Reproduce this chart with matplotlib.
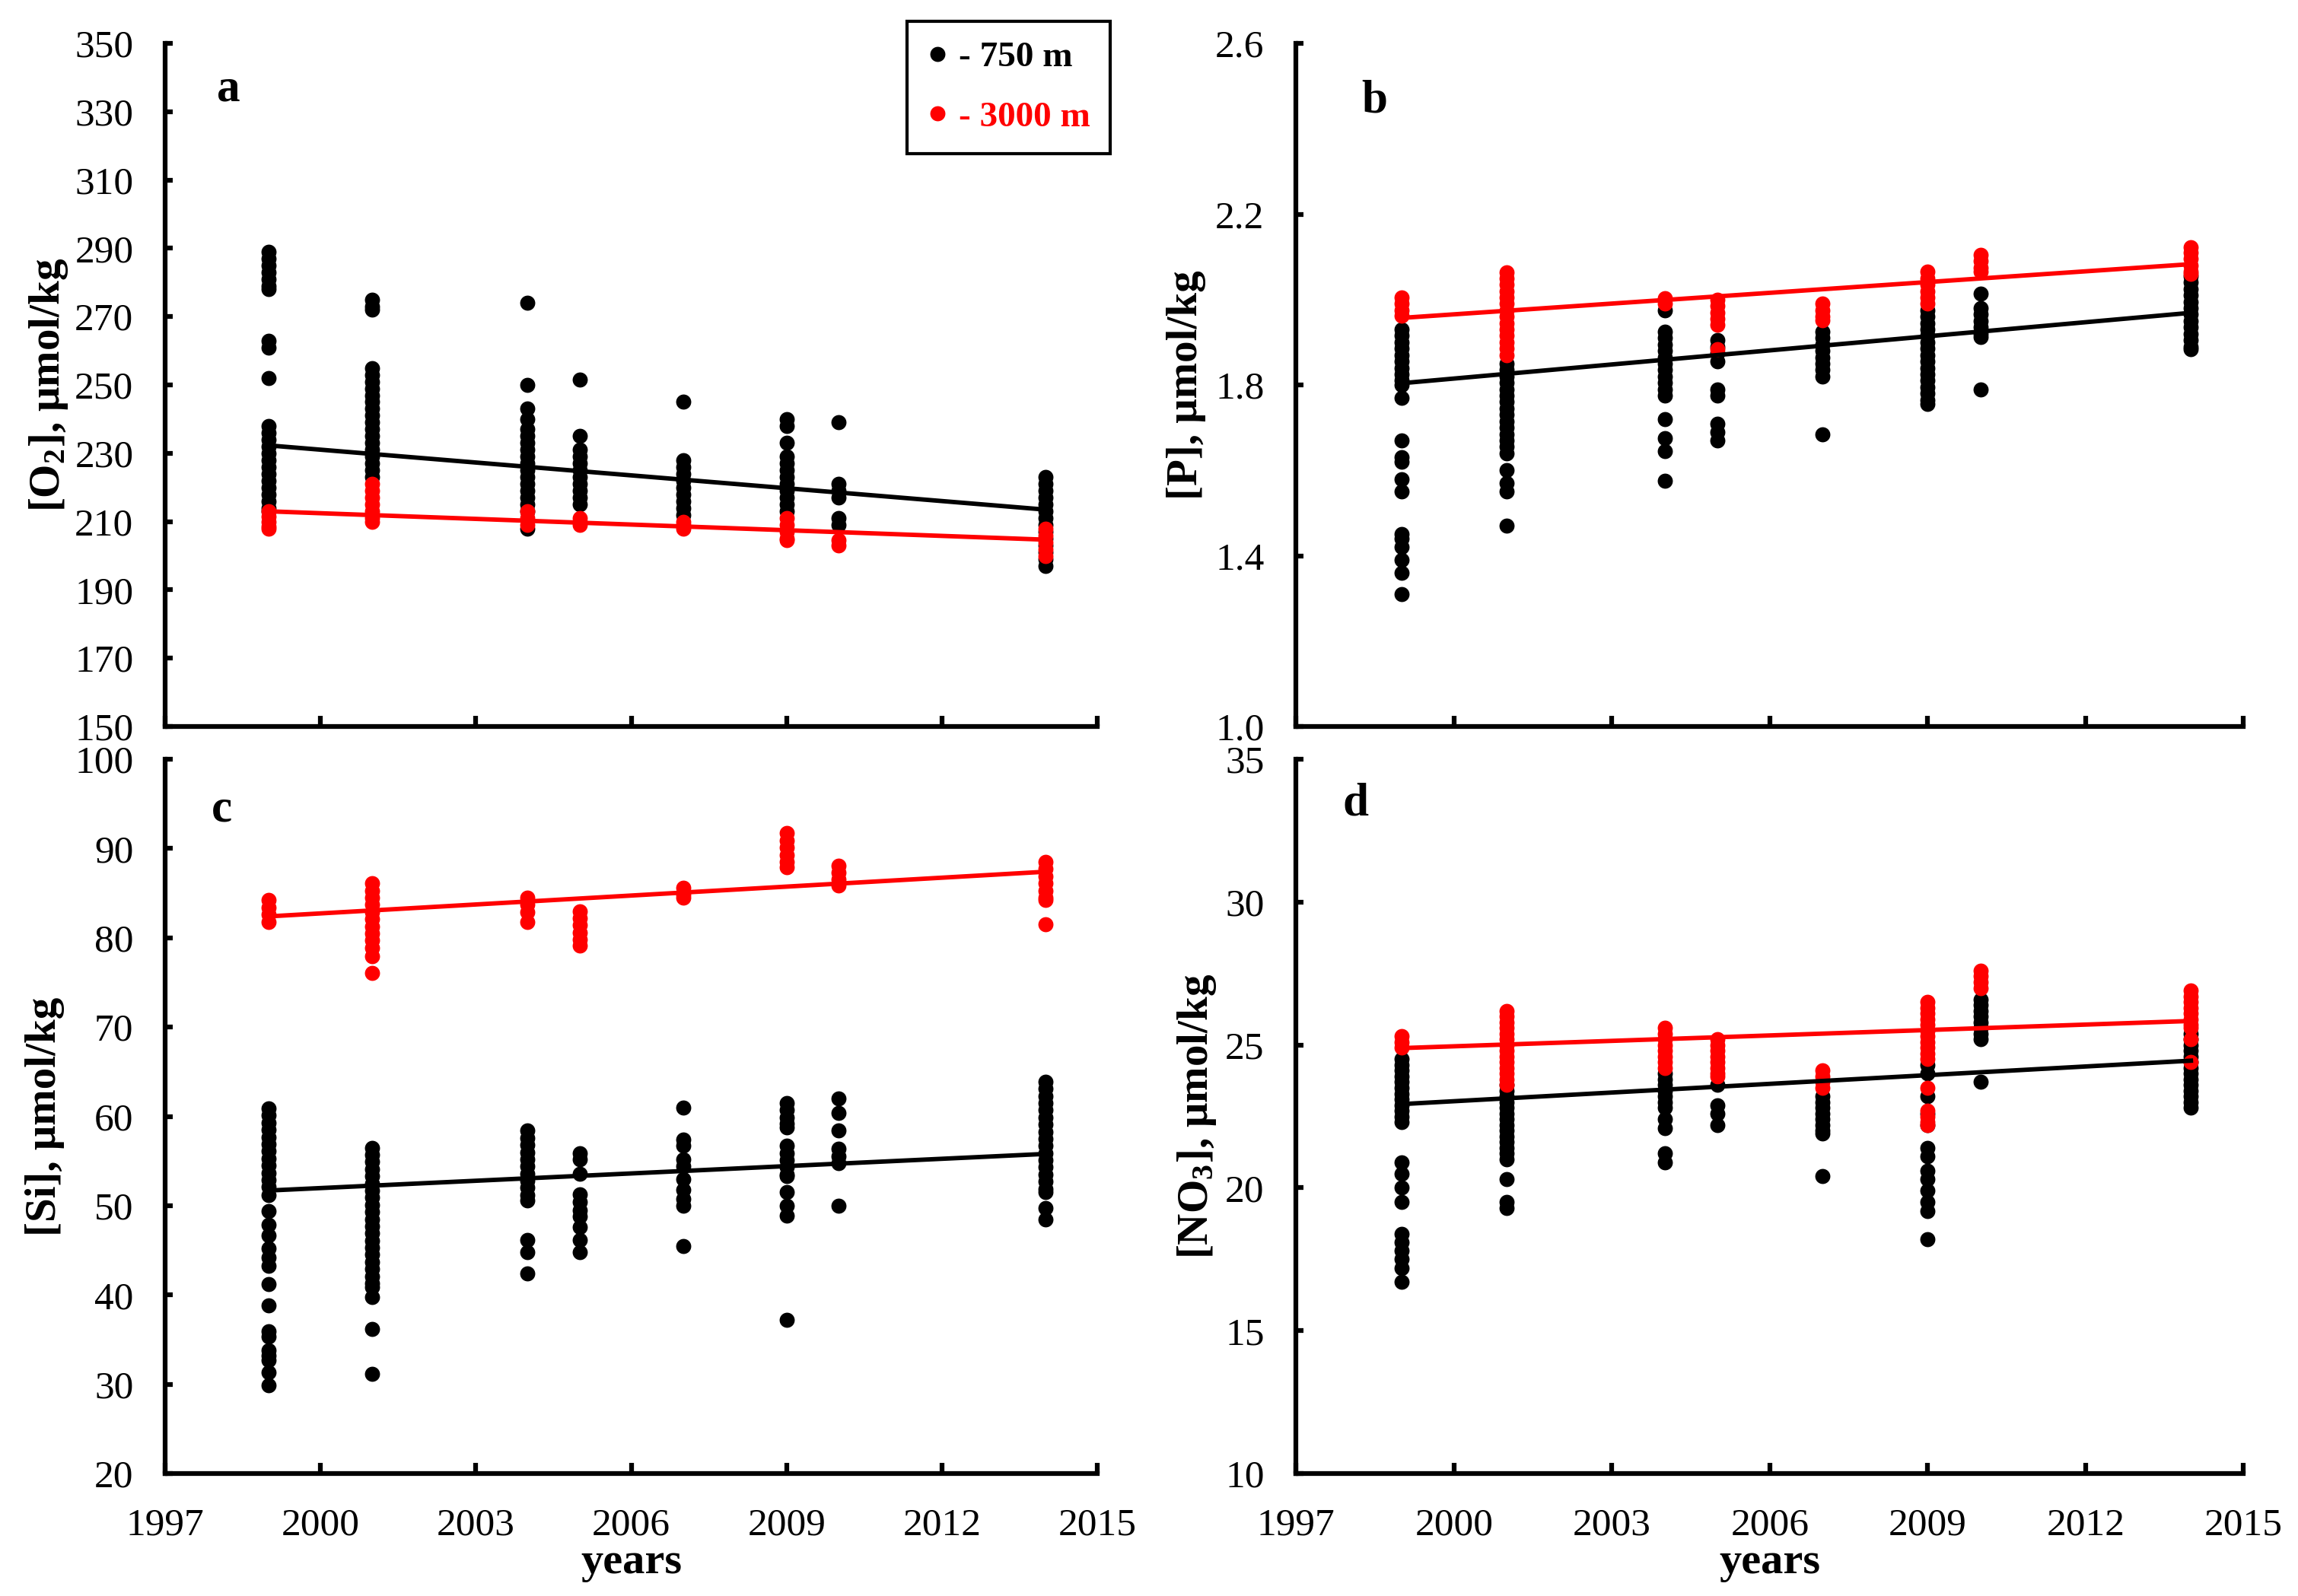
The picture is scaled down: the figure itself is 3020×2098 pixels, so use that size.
"""Four-panel chart: O2, P, Si and NO3 at 750 m and 3000 m depth by survey year."""

import matplotlib

matplotlib.use("Agg")
import matplotlib.pyplot as plt
import numpy as np
from matplotlib.lines import Line2D
from matplotlib.ticker import FormatStrFormatter

# --- Data ---
survey_years = [1999, 2001, 2004, 2005, 2007, 2009, 2010, 2014]
trend_years = [1999, 2014]
year_ticks = [1997, 2000, 2003, 2006, 2009, 2012, 2015]

# [O2], umol/kg
o2_750 = [
    [289, 287, 285, 283, 281, 279, 278, 263, 261, 252, 238, 236, 234, 232, 230, 228,
     226, 224, 222, 220, 218, 216, 214, 213],
    [275, 273, 272, 255, 253, 251, 249, 247, 245, 243, 241, 239, 237, 235, 233, 231,
     229, 227, 225, 223],
    [274, 250, 243, 240, 237, 235, 233, 231, 229, 227, 225, 223, 221, 219, 217, 215, 213, 208],
    [251.5, 235, 231, 229, 227, 225, 223, 221, 219, 217, 215],
    [245, 228, 226, 224, 222, 220, 218, 216, 214, 212],
    [240, 238, 233, 229, 227, 225, 223, 221, 219, 217, 215, 213],
    [239, 221, 219, 217, 211, 209],
    [223, 221, 219, 217, 215, 213, 211, 209, 207, 205, 203, 201, 199, 197],
]
o2_3000 = [
    [213, 211.5, 210, 208.5, 208],
    [221, 219, 217, 215, 213, 211, 210],
    [213, 211, 209],
    [211, 210, 209],
    [210, 209, 208],
    [211, 209, 207, 205, 204.5],
    [204.5, 203],
    [208, 206, 204, 202, 200],
]
o2_trend_750 = [232.3, 213.5]
o2_trend_3000 = [213.0, 204.7]
o2_ticks = [150, 170, 190, 210, 230, 250, 270, 290, 310, 330, 350]

# [P], umol/kg
p_750 = [
    [1.93, 1.915, 1.90, 1.885, 1.87, 1.855, 1.84, 1.825, 1.81, 1.80, 1.77, 1.67, 1.63,
     1.62, 1.58, 1.55, 1.45, 1.44, 1.42, 1.39, 1.36, 1.31],
    [1.85, 1.835, 1.82, 1.805, 1.79, 1.775, 1.76, 1.745, 1.73, 1.715, 1.70, 1.685, 1.67,
     1.655, 1.64, 1.60, 1.57, 1.55, 1.47],
    [1.975, 1.925, 1.91, 1.895, 1.88, 1.865, 1.85, 1.835, 1.82, 1.805, 1.79, 1.776, 1.72,
     1.675, 1.645, 1.575],
    [1.905, 1.89, 1.875, 1.855, 1.79, 1.775, 1.71, 1.69, 1.67],
    [1.925, 1.91, 1.895, 1.88, 1.865, 1.85, 1.835, 1.82, 1.685],
    [1.975, 1.96, 1.945, 1.93, 1.915, 1.90, 1.885, 1.87, 1.855, 1.84, 1.825, 1.81, 1.795,
     1.78, 1.765, 1.756],
    [2.014, 1.98, 1.965, 1.95, 1.935, 1.92, 1.912, 1.79],
    [2.054, 2.04, 2.025, 2.01, 1.995, 1.98, 1.965, 1.95, 1.935, 1.92, 1.905, 1.89, 1.884],
]
p_3000 = [
    [2.005, 1.99, 1.975, 1.963],
    [2.063, 2.05, 2.035, 2.02, 2.005, 1.99, 1.975, 1.96, 1.945, 1.93, 1.915, 1.90, 1.885, 1.87],
    [2.003, 1.99],
    [2.0, 1.985, 1.97, 1.955, 1.94, 1.884],
    [1.99, 1.975, 1.96, 1.952],
    [2.066, 2.05, 2.035, 2.02, 2.005, 1.99],
    [2.105, 2.09, 2.075, 2.066],
    [2.122, 2.11, 2.095, 2.08, 2.065, 2.06],
]
p_trend_750 = [1.804, 1.969]
p_trend_3000 = [1.957, 2.083]
p_ticks = [1.0, 1.4, 1.8, 2.2, 2.6]

# [Si], umol/kg
si_750 = [
    [60.9, 60.1, 59.3, 58.5, 57.7, 56.9, 56.1, 55.3, 54.5, 53.7, 52.9, 52.1, 51.2, 49.4,
     47.9, 46.7, 45.2, 44.2, 43.3, 41.2, 38.8, 35.9, 35.3, 33.8, 33.2, 32.7, 31.3, 29.9],
    [56.5, 55.7, 54.9, 54.1, 53.3, 52.5, 51.7, 50.9, 50.1, 49.3, 48.5, 47.7, 46.9, 46.1,
     45.3, 44.5, 43.7, 42.9, 42.1, 41.3, 40.9, 39.8, 36.2, 31.2],
    [58.4, 57.6, 56.8, 56.0, 55.2, 54.4, 53.6, 52.8, 52.0, 51.2, 50.6, 46.2, 44.8, 42.4],
    [55.9, 55.2, 53.6, 51.3, 50.4, 49.5, 48.8, 47.6, 46.2, 44.8],
    [61.0, 57.4, 56.7, 55.2, 54.4, 53.0, 51.8, 50.8, 50.0, 45.5],
    [61.5, 60.7, 59.9, 59.2, 58.8, 56.7, 55.9, 55.1, 54.3, 53.5, 53.3, 51.5, 50.0, 48.9, 37.2],
    [62.0, 60.4, 58.4, 56.4, 55.5, 54.8, 50.0],
    [63.9, 63.1, 62.3, 61.5, 60.7, 59.9, 59.1, 58.3, 57.5, 56.7, 55.9, 55.1, 54.3, 53.5,
     52.7, 51.9, 51.5, 49.7, 48.5],
]
si_3000 = [
    [84.2, 83.4, 82.6, 81.8],
    [86.1, 85.3, 84.5, 83.7, 82.9, 82.1, 81.3, 80.5, 79.7, 78.9, 77.9, 76.1],
    [84.5, 83.7, 82.9, 81.8],
    [83.0, 82.2, 81.4, 80.6, 79.8, 79.1],
    [85.6, 84.8, 84.5],
    [91.7, 90.9, 90.1, 89.3, 88.5, 87.9],
    [88.1, 87.3, 86.5, 85.9],
    [88.5, 87.7, 86.9, 86.1, 85.3, 84.5, 84.2, 81.5],
]
si_trend_750 = [51.7, 55.8]
si_trend_3000 = [82.4, 87.4]
si_ticks = [20, 30, 40, 50, 60, 70, 80, 90, 100]

# [NO3], umol/kg
no3_750 = [
    [24.5, 24.3, 24.1, 23.9, 23.7, 23.5, 23.3, 23.1, 22.9, 22.7, 22.5, 22.3, 20.9, 20.5,
     20.0, 19.5, 18.4, 18.1, 17.8, 17.5, 17.2, 16.7],
    [23.6, 23.4, 23.2, 23.0, 22.8, 22.6, 22.4, 22.2, 22.0, 21.8, 21.6, 21.4, 21.2, 21.0,
     20.3, 19.5, 19.3],
    [24.0, 23.8, 23.6, 23.4, 23.2, 23.0, 22.8, 22.4, 22.1, 21.2, 20.9],
    [23.6, 22.9, 22.6, 22.2],
    [23.2, 23.0, 22.8, 22.6, 22.4, 22.2, 22.0, 21.9, 20.4],
    [24.3, 24.0, 23.2, 22.6, 22.2, 21.4, 21.1, 20.6, 20.3, 19.9, 19.5, 19.2, 18.2],
    [26.6, 26.4, 26.2, 26.0, 25.8, 25.6, 25.4, 25.2, 23.7],
    [25.4, 25.2, 25.0, 24.8, 24.6, 24.4, 24.2, 24.0, 23.8, 23.6, 23.4, 23.2, 23.0, 22.8],
]
no3_3000 = [
    [25.3, 25.1, 24.9],
    [26.2, 26.0, 25.8, 25.6, 25.4, 25.2, 25.0, 24.8, 24.6, 24.4, 24.2, 24.0, 23.8, 23.6],
    [25.6, 25.4, 25.2, 25.0, 24.8, 24.6, 24.4, 24.2],
    [25.2, 25.0, 24.8, 24.6, 24.4, 24.2, 24.0, 23.9],
    [24.1, 23.9, 23.7, 23.5],
    [26.5, 26.3, 26.1, 25.9, 25.7, 25.5, 25.3, 25.1, 24.9, 24.7, 24.5, 23.5, 22.7, 22.5,
     22.3, 22.2],
    [27.6, 27.4, 27.2, 27.0],
    [26.9, 26.7, 26.5, 26.3, 26.1, 25.9, 25.7, 25.6, 25.2, 24.4],
]
no3_trend_750 = [22.93, 24.45]
no3_trend_3000 = [24.89, 25.84]
no3_ticks = [10, 15, 20, 25, 30, 35]

RED = "#ff0000"
MARKER_SIZE = 14.3
TICK_SIZE = 37


def flatten(groups):
    """Turns the per-year lists into matching x/y arrays."""
    xs = np.repeat(survey_years, [len(g) for g in groups])
    ys = np.concatenate([np.asarray(g, dtype=float) for g in groups])
    return xs, ys


def draw_panel(ax, deep_750, deep_3000, trend_750, trend_3000, yticks, ylabel,
               letter, letter_xy, label_x, show_years, yfmt=None):
    """Draws one panel: the points, the two trend lines and the axis styling."""
    x, y = flatten(deep_750)
    ax.plot(x, y, "o", color="black", ms=MARKER_SIZE, mew=0, zorder=3)
    x, y = flatten(deep_3000)
    ax.plot(x, y, "o", color=RED, ms=MARKER_SIZE, mew=0, zorder=4)
    ax.plot(trend_years, trend_750, color="black", lw=4.2, zorder=5)
    ax.plot(trend_years, trend_3000, color=RED, lw=4.2, zorder=6)

    ax.set_xlim(year_ticks[0], year_ticks[-1])
    ax.set_ylim(yticks[0], yticks[-1])
    ax.set_xticks(year_ticks)
    ax.set_yticks(yticks)
    if yfmt:
        ax.yaxis.set_major_formatter(FormatStrFormatter(yfmt))

    for side in ("top", "right"):
        ax.spines[side].set_visible(False)
    for side in ("left", "bottom"):
        ax.spines[side].set_linewidth(4.5)
    ax.tick_params(axis="y", direction="in", length=7, width=4.5, pad=30,
                   labelsize=TICK_SIZE)
    ax.tick_params(axis="x", direction="in", length=10, width=4.5, pad=32,
                   labelsize=TICK_SIZE, labelbottom=show_years)

    ax.set_ylabel(ylabel, fontsize=41, fontweight="bold")
    ax.yaxis.set_label_coords(label_x, 0.5)
    if show_years:
        ax.set_xlabel("years", fontsize=42, fontweight="bold", labelpad=0)
    ax.text(*letter_xy, letter, transform=ax.transAxes, fontsize=44,
            fontweight="bold", ha="center", va="center")


def main() -> None:
    plt.rcParams["font.family"] = "Liberation Serif"
    plt.rcParams["mathtext.fontset"] = "custom"
    plt.rcParams["mathtext.rm"] = "Liberation Serif:bold"
    plt.rcParams["mathtext.it"] = "Liberation Serif:bold:italic"
    plt.rcParams["mathtext.bf"] = "Liberation Serif:bold"

    fig = plt.figure(figsize=(30.2, 20.98), dpi=100)
    ax_a = fig.add_axes([0.0719, 0.5448, 0.4056, 0.428])
    ax_b = fig.add_axes([0.564, 0.5448, 0.4123, 0.428])
    ax_c = fig.add_axes([0.0719, 0.0767, 0.4056, 0.4476])
    ax_d = fig.add_axes([0.564, 0.0767, 0.4123, 0.4476])

    draw_panel(ax_a, o2_750, o2_3000, o2_trend_750, o2_trend_3000, o2_ticks,
               r"[O$_2$], μmol/kg", "a", (0.068, 0.933), -0.102, False)
    draw_panel(ax_b, p_750, p_3000, p_trend_750, p_trend_3000, p_ticks,
               "[P], μmol/kg", "b", (0.083, 0.916), -0.095, False, yfmt="%.1f")
    draw_panel(ax_c, si_750, si_3000, si_trend_750, si_trend_3000, si_ticks,
               "[Si], μmol/kg", "c", (0.061, 0.929), -0.108, True)
    draw_panel(ax_d, no3_750, no3_3000, no3_trend_750, no3_trend_3000, no3_ticks,
               r"[NO$_3$], μmol/kg", "d", (0.063, 0.938), -0.082, True)

    # Legend box sits in the top right corner of panel a, partly outside the axes.
    handles = [
        Line2D([], [], ls="none", marker="o", ms=MARKER_SIZE, mew=0, color="black",
               label="- 750 m"),
        Line2D([], [], ls="none", marker="o", ms=MARKER_SIZE, mew=0, color=RED,
               label="- 3000 m"),
    ]
    leg = ax_a.legend(handles=handles, loc="upper right", bbox_to_anchor=(1.014, 1.032),
                      frameon=True, fancybox=False, framealpha=1, edgecolor="black",
                      prop={"size": 34, "weight": "bold"}, labelcolor=["black", RED],
                      handlelength=0.6, handletextpad=0.3, borderpad=0.55,
                      labelspacing=0.75, borderaxespad=0)
    leg.get_frame().set_linewidth(3)

    fig.savefig("out.png", dpi=100)
    plt.close(fig)


if __name__ == "__main__":
    main()
